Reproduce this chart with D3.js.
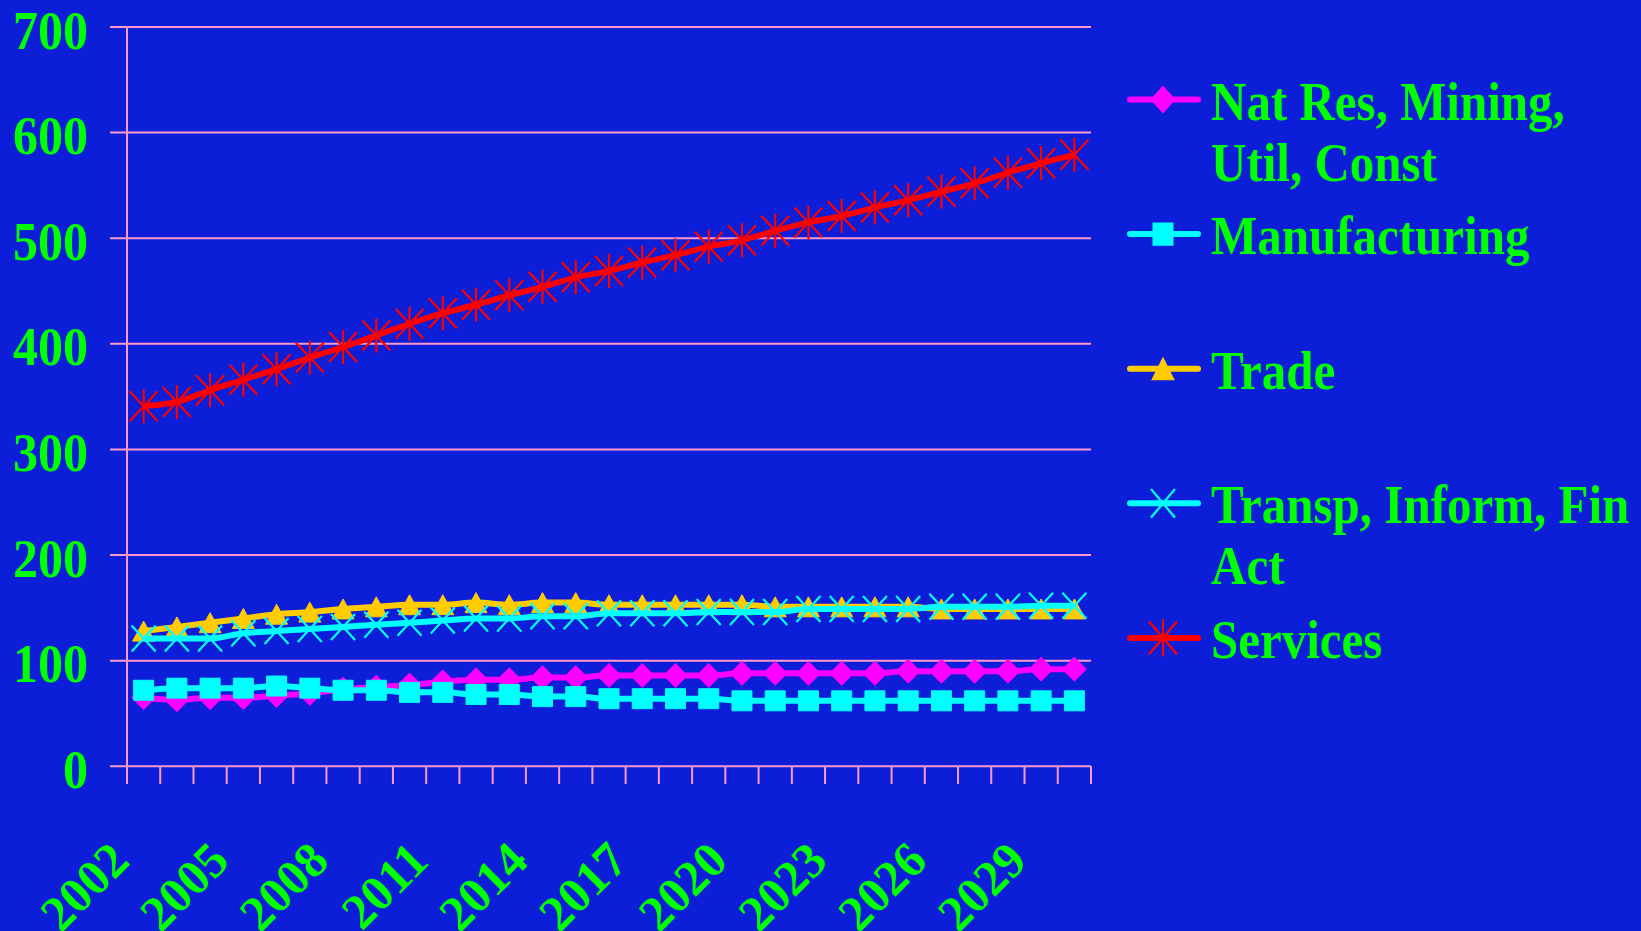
<!DOCTYPE html>
<meta charset="utf-8">
<script src="https://d3js.org/d3.v7.min.js"></script>
<style>
  body { margin: 0; background: #0c1ed8; }
  svg text { font-family: "Liberation Serif", "Times New Roman", serif; font-weight: bold; fill: #00ff00; }
</style>
<div id="chart"></div>
<script>
// years on the category axis
var years = d3.range(2002, 2031).map(String);
var yTicks = [0, 100, 200, 300, 400, 500, 600, 700];
var xLabels = ["2002", "2005", "2008", "2011", "2014", "2017", "2020", "2023", "2026", "2029"];

// series values
var natRes = [65, 63, 65, 65, 67, 69, 73, 75, 77, 80, 82, 82, 84, 84, 86, 86, 86, 86, 88, 88, 88, 88, 88, 90, 90, 90, 90, 92, 92];
var manufacturing = [72, 74, 74, 74, 76, 74, 72, 72, 70, 70, 68, 68, 66, 66, 64, 64, 64, 64, 62, 62, 62, 62, 62, 62, 62, 62, 62, 62, 62];
var trade = [128, 132, 136, 140, 144, 146, 149, 151, 153, 153, 155, 153, 155, 155, 153, 153, 153, 153, 153, 151, 151, 151, 151, 151, 149, 149, 149, 149, 149];
var transp = [121, 121, 121, 126, 128, 130, 132, 134, 136, 138, 140, 140, 142, 142, 145, 145, 145, 146, 146, 146, 149, 149, 149, 149, 151, 151, 151, 152, 152];
var services = [341, 345, 356, 366, 376, 387, 397, 408, 419, 429, 437, 446, 454, 463, 469, 477, 484, 492, 498, 507, 515, 521, 529, 536, 544, 552, 562, 571, 579];

var seriesNames = [["Nat Res, Mining,", "Util, Const"], ["Manufacturing"], ["Trade"], ["Transp, Inform, Fin", "Act"], ["Services"]];
var seriesValues = [natRes, manufacturing, trade, transp, services];
var seriesColors = ["#ff00ff", "#00ffff", "#ffcc00", "#00ffff", "#ff0000"];
var seriesMarkers = ["diamond", "square", "triangle", "cross", "star"];

var W = 1641, H = 931;
var svg = d3.select("#chart").append("svg").attr("width", W).attr("height", H);
svg.append("rect").attr("width", W).attr("height", H).attr("fill", "#0c1ed8");

var x = d3.scaleBand().domain(years).range([127, 1091]).padding(0);
var y = d3.scaleLinear().domain([0, 700]).range([766.3, 27]);
var grid = "#ff99cc";

// gridlines
svg.append("g").selectAll("line").data(yTicks).join("line")
  .attr("x1", 110).attr("x2", 1091)
  .attr("y1", function (d) { return y(d); }).attr("y2", function (d) { return y(d); })
  .attr("stroke", grid).attr("stroke-width", 2);

// y axis line
svg.append("line").attr("x1", 127).attr("x2", 127).attr("y1", y(700)).attr("y2", 784)
  .attr("stroke", grid).attr("stroke-width", 2);

// x ticks at category boundaries
var bounds = years.map(function (d) { return x(d); }).concat([x.range()[1]]);
svg.append("g").selectAll("line").data(bounds).join("line")
  .attr("x1", function (d) { return d; }).attr("x2", function (d) { return d; })
  .attr("y1", y(0)).attr("y2", 784)
  .attr("stroke", grid).attr("stroke-width", 2);

// y labels (text in the picture is a little taller than wide)
svg.append("g").selectAll("text").data(yTicks).join("text")
  .attr("text-anchor", "end").attr("font-size", 50)
  .attr("transform", function (d) { return "translate(88," + (y(d) + 21.5) + ") scale(1,1.1)"; })
  .text(function (d) { return d; });

// x labels
svg.append("g").selectAll("text").data(xLabels).join("text")
  .attr("text-anchor", "end").attr("font-size", 50)
  .attr("transform", function (d) {
    return "translate(" + (x(d) + x.bandwidth() / 2 - 12) + ",863) rotate(-45)";
  })
  .text(function (d) { return d; });

function markerPath(type) {
  switch (type) {
    case "diamond": return "M0,-12L12,0L0,12L-12,0Z";
    case "square": return "M-10,-10H10V10H-10Z";
    case "triangle": return "M0,-10L11,10L-11,10Z";
    case "cross": return "M-12,-13L12,13M-12,13L12,-13";
    case "star": return "M-14,-15L14,15M-14,15L14,-15M0,-17V17";
  }
}

function drawMarker(sel, type, color) {
  var filled = type === "diamond" || type === "square" || type === "triangle";
  sel.attr("d", markerPath(type))
    .attr("fill", filled ? color : "none")
    .attr("stroke", color)
    .attr("stroke-width", filled ? 1 : 2.2);
}

var line = d3.line()
  .x(function (d, i) { return x(years[i]) + x.bandwidth() / 2; })
  .y(function (d) { return y(d); })
  .curve(d3.curveMonotoneX);

seriesValues.forEach(function (vals, s) {
  var g = svg.append("g");
  g.append("path").attr("d", line(vals)).attr("fill", "none")
    .attr("stroke", seriesColors[s]).attr("stroke-width", 6);
  g.selectAll("path.m").data(vals).join("path").attr("class", "m")
    .attr("transform", function (d, i) {
      return "translate(" + (x(years[i]) + x.bandwidth() / 2) + "," + y(d) + ")";
    })
    .call(drawMarker, seriesMarkers[s], seriesColors[s]);
});

// legend
var legend = svg.append("g");
seriesNames.forEach(function (lines, s) {
  var ly = 99.5 + s * 134.6;
  legend.append("line").attr("x1", 1130).attr("x2", 1198).attr("y1", ly).attr("y2", ly)
    .attr("stroke", seriesColors[s]).attr("stroke-width", 6).attr("stroke-linecap", "round");
  legend.append("path").attr("transform", "translate(1163," + ly + ") scale(1,1.1)")
    .call(drawMarker, seriesMarkers[s], seriesColors[s]);
  var t = legend.append("text").attr("font-size", 49)
    .attr("transform", "translate(1211," + (ly + 20) + ") scale(1,1.1)");
  lines.forEach(function (l, k) {
    t.append("tspan").attr("x", 0).attr("dy", k === 0 ? 0 : 55.5).text(l);
  });
});
</script>
